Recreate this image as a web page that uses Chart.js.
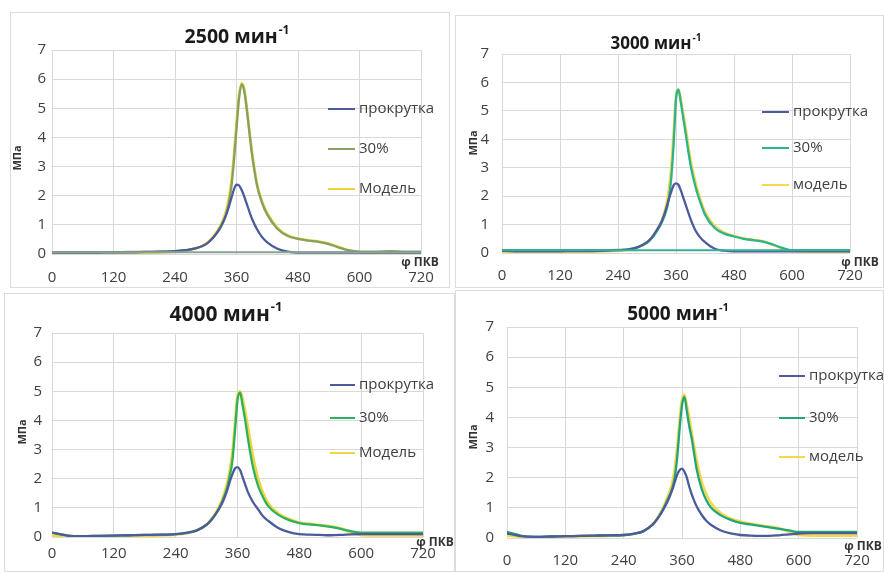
<!DOCTYPE html>
<html><head><meta charset="utf-8">
<script src="https://cdn.jsdelivr.net/npm/chart.js@4"></script>
<style>
html,body{margin:0;padding:0;background:#fff;width:884px;height:572px;overflow:hidden;position:relative;font-family:"Open Sans",sans-serif}
.panel{position:absolute;border:1px solid #dcdcdc;background:#fff}
.panel canvas{display:block}
</style></head><body>
<div class="panel" style="left:10px;top:12px"><canvas id="c1" width="438" height="274"></canvas></div>
<div class="panel" style="left:455px;top:15px"><canvas id="c2" width="427" height="271"></canvas></div>
<div class="panel" style="left:4px;top:293px"><canvas id="c3" width="449" height="277"></canvas></div>
<div class="panel" style="left:455px;top:290px"><canvas id="c4" width="427" height="280"></canvas></div>
<script>
// ---- data ----
const angles = [0,15,30,60,90,120,150,180,210,240,260,280,300,310,320,330,340,345,350,355,360,365,370,375,380,390,400,410,420,440,460,480,500,520,540,560,580,600,630,660,690,720];
const xTicks = [0,120,240,360,480,600,720];
const yTicks = [0,1,2,3,4,5,6,7];
const seriesNames = ['прокрутка','30%','Модель'];
const seriesNamesLower = ['прокрутка','30%','модель'];
const panelTitles = ['2500 мин','3000 мин','4000 мин','5000 мин'];
const titleSup = '-1';
const yAxisLabel = 'МПа';
const xAxisLabel = 'φ ПКВ';

const prok2500 = [0.05,0.05,0.05,0.05,0.05,0.06,0.06,0.07,0.08,0.10,0.13,0.19,0.33,0.48,0.68,0.95,1.35,1.62,1.92,2.22,2.38,2.35,2.20,1.98,1.72,1.22,0.85,0.58,0.40,0.18,0.08,0.05,0.05,0.05,0.05,0.05,0.05,0.05,0.05,0.05,0.05,0.05];
const p30_2500 = [0.06,0.06,0.06,0.06,0.06,0.06,0.07,0.07,0.08,0.10,0.13,0.19,0.33,0.47,0.68,0.95,1.38,1.75,2.30,3.20,4.30,5.35,5.82,5.60,4.95,3.45,2.35,1.75,1.35,0.86,0.62,0.52,0.46,0.42,0.34,0.22,0.12,0.08,0.08,0.10,0.08,0.08];
const model2500 = [0.02,0.02,0.02,0.02,0.02,0.02,0.03,0.03,0.05,0.08,0.12,0.19,0.34,0.50,0.72,1.02,1.50,1.90,2.50,3.40,4.50,5.45,5.86,5.68,5.05,3.55,2.42,1.80,1.40,0.90,0.64,0.53,0.47,0.43,0.36,0.24,0.12,0.07,0.06,0.06,0.06,0.06];
const baseAngles = [0,720];
const base2500 = [0.06,0.06];

const prok3000 = [0.08,0.07,0.06,0.06,0.06,0.06,0.07,0.07,0.08,0.10,0.12,0.20,0.38,0.55,0.80,1.10,1.58,1.88,2.15,2.38,2.45,2.40,2.20,1.95,1.70,1.20,0.80,0.55,0.38,0.15,0.08,0.06,0.06,0.06,0.06,0.06,0.06,0.06,0.06,0.06,0.06,0.06];
const p30_3000 = [0.10,0.10,0.10,0.10,0.10,0.10,0.10,0.10,0.10,0.11,0.13,0.20,0.36,0.52,0.75,1.05,1.50,1.90,2.60,3.80,5.40,5.75,5.30,4.75,4.20,3.10,2.35,1.80,1.35,0.88,0.68,0.58,0.50,0.45,0.40,0.30,0.18,0.10,0.10,0.10,0.10,0.10];
const model3000 = [0.05,0.05,0.04,0.04,0.04,0.04,0.05,0.05,0.06,0.08,0.11,0.19,0.36,0.55,0.80,1.12,1.70,2.20,3.00,4.20,5.50,5.75,5.40,4.90,4.40,3.30,2.50,1.90,1.45,0.95,0.72,0.60,0.52,0.46,0.41,0.30,0.15,0.07,0.05,0.05,0.05,0.05];
const base3000 = [0.10,0.10];

const prok4000 = [0.15,0.10,0.05,0.03,0.04,0.05,0.06,0.07,0.08,0.10,0.14,0.22,0.42,0.60,0.85,1.15,1.60,1.90,2.15,2.35,2.40,2.30,2.05,1.80,1.55,1.20,0.95,0.70,0.55,0.30,0.17,0.10,0.08,0.07,0.06,0.07,0.09,0.10,0.10,0.10,0.10,0.10];
const p30_4000 = [0.15,0.10,0.05,0.03,0.04,0.05,0.06,0.07,0.08,0.10,0.14,0.22,0.42,0.60,0.85,1.20,1.70,2.10,2.60,3.60,4.70,4.95,4.50,4.00,3.40,2.40,1.75,1.35,1.05,0.75,0.58,0.48,0.43,0.40,0.35,0.28,0.20,0.15,0.15,0.15,0.15,0.15];
const model4000 = [0.05,0.04,0.03,0.02,0.02,0.03,0.03,0.04,0.05,0.08,0.12,0.21,0.43,0.63,0.90,1.28,1.85,2.30,2.90,3.90,4.85,5.00,4.75,4.30,3.80,2.80,2.00,1.50,1.15,0.80,0.62,0.50,0.45,0.41,0.37,0.30,0.15,0.07,0.05,0.05,0.05,0.05];

const prok5000 = [0.15,0.10,0.06,0.04,0.05,0.06,0.07,0.08,0.09,0.10,0.14,0.22,0.45,0.65,0.90,1.20,1.60,1.85,2.10,2.25,2.30,2.20,2.00,1.70,1.45,1.05,0.78,0.57,0.43,0.25,0.15,0.10,0.08,0.07,0.07,0.09,0.12,0.15,0.16,0.16,0.16,0.16];
const p30_5000 = [0.20,0.14,0.07,0.04,0.05,0.06,0.07,0.08,0.09,0.10,0.14,0.22,0.45,0.65,0.92,1.25,1.65,2.00,2.65,3.60,4.40,4.68,4.20,3.70,3.30,2.30,1.65,1.25,1.00,0.75,0.60,0.50,0.45,0.40,0.35,0.30,0.25,0.20,0.20,0.20,0.20,0.20];
const model5000 = [0.08,0.06,0.04,0.03,0.03,0.04,0.05,0.06,0.07,0.09,0.13,0.22,0.46,0.68,0.97,1.35,1.85,2.30,3.00,3.90,4.60,4.75,4.40,4.00,3.50,2.60,1.90,1.45,1.15,0.82,0.65,0.55,0.48,0.42,0.38,0.32,0.20,0.10,0.08,0.08,0.08,0.08];

// ---- rendering ----
const FONT = '"Open Sans", "Noto Sans", sans-serif';
const pts = (xs, ys) => xs.map((a, i) => ({x: a, y: ys[i]}));

const panels = [
  { id:'c1', title:panelTitles[0], names:seriesNames, series:[prok2500,p30_2500,model2500], base:base2500,
    colors:['#4b5b9c','#86a060','#f0d43a'], baseColor:'#88a592',
    L:41, T:37, R:28, XH:33, xPad:15, yPad:6, titleFs:19.5,
    titleXY:[226,24], legX:[317,344,348], legY:[96,136,176], yLab:[7,145], xLab:[409,250] },
  { id:'c2', title:panelTitles[1], names:seriesNamesLower, series:[prok3000,p30_3000,model3000], base:base3000,
    colors:['#4b5b9c','#2fb38a','#f2da50'], baseColor:'#38ae94',
    L:46, T:38, R:33, XH:34, xPad:14, yPad:13, titleFs:17,
    titleXY:[200,28], legX:[306,333,337], legY:[96,132,169], yLab:[18,127], xLab:[404,247] },
  { id:'c3', title:panelTitles[2], names:seriesNames, series:[prok4000,p30_4000,model4000], base:null,
    colors:['#4b5b9c','#2ab35c','#f0d440'], baseColor:null,
    L:47, T:39, R:31, XH:34, xPad:8, yPad:10, titleFs:21,
    titleXY:[221,21], legX:[325,350,354], legY:[91,124,159], yLab:[18,138], xLab:[430,249] },
  { id:'c4', title:panelTitles[3], names:seriesNamesLower, series:[prok5000,p30_5000,model5000], base:null,
    colors:['#4b5b9c','#22a678','#f2d84a'], baseColor:null,
    L:51, T:36, R:26, XH:33, xPad:14, yPad:13, titleFs:19,
    titleXY:[222,24], legX:[323,349,353], legY:[85,127,166], yLab:[18,146], xLab:[407,256] }
];

const decor = {
  id:'decor',
  afterDraw(chart, args, o) {
    const p = o.p, ctx = chart.ctx;
    ctx.save();
    ctx.fillStyle = '#1a1a1a';
    ctx.textBaseline = 'middle';
    ctx.textAlign = 'left';
    ctx.font = 'bold ' + p.titleFs + 'px ' + FONT;
    const w1 = ctx.measureText(p.title).width;
    const supFs = Math.round(p.titleFs * 0.6);
    ctx.font = 'bold ' + supFs + 'px ' + FONT;
    const w2 = ctx.measureText(titleSup).width;
    const x0 = p.titleXY[0] - (w1 + w2 + 1) / 2;
    ctx.font = 'bold ' + p.titleFs + 'px ' + FONT;
    ctx.fillText(p.title, x0, p.titleXY[1]);
    ctx.font = 'bold ' + supFs + 'px ' + FONT;
    ctx.fillText(titleSup, x0 + w1 + 1, p.titleXY[1] - p.titleFs * 0.35);
    ctx.font = '15px ' + FONT;
    ctx.fillStyle = '#404040';
    p.names.forEach((n, i) => {
      const y = p.legY[i];
      ctx.strokeStyle = p.colors[i];
      ctx.lineWidth = 2;
      ctx.beginPath(); ctx.moveTo(p.legX[0], y); ctx.lineTo(p.legX[1], y); ctx.stroke();
      ctx.fillText(n, p.legX[2], y);
    });
    ctx.save();
    ctx.translate(p.yLab[0], p.yLab[1]);
    ctx.rotate(-Math.PI / 2);
    ctx.textAlign = 'center';
    ctx.font = 'bold 11px ' + FONT;
    ctx.fillStyle = '#333';
    ctx.fillText(yAxisLabel, 0, 0);
    ctx.restore();
    ctx.textAlign = 'center';
    ctx.font = 'bold 12px ' + FONT;
    ctx.fillStyle = '#333';
    ctx.fillText(xAxisLabel, p.xLab[0], p.xLab[1]);
    ctx.restore();
  }
};

panels.forEach(p => {
  const ds = [];
  if (p.base) {
    ds.push({ label:'base', data:pts(baseAngles, p.base), borderColor:p.baseColor, borderWidth:2, pointRadius:0, tension:0 });
  }
  p.series.forEach((s, i) => {
    ds.push({ label:p.names[i], data:pts(angles, s), borderColor:p.colors[i], borderWidth:(i === 2 ? 2.6 : 2.3),
      pointRadius:0, cubicInterpolationMode:'monotone', fill:false });
  });
  new Chart(document.getElementById(p.id), {
    type:'line',
    data:{ datasets:ds },
    options:{
      responsive:false, animation:false, devicePixelRatio:1,
      layout:{ padding:{ left:p.L - 30, top:p.T, right:p.R, bottom:0 } },
      plugins:{ legend:{display:false}, title:{display:false}, tooltip:{enabled:false}, decor:{p:p} },
      scales:{
        x:{ type:'linear', min:0, max:720,
            afterBuildTicks:s => { s.ticks = xTicks.map(v => ({value:v})); },
            ticks:{ padding:p.xPad, color:'#404040', font:{family:FONT, size:15} },
            grid:{ color:'#d9d9d9', drawTicks:false }, border:{display:false},
            afterFit:s => { s.height = p.XH; s.paddingLeft = 0; s.paddingRight = 0; } },
        y:{ type:'linear', min:0, max:7,
            afterBuildTicks:s => { s.ticks = yTicks.map(v => ({value:v})); },
            ticks:{ padding:p.yPad, color:'#404040', font:{family:FONT, size:15} },
            grid:{ color:'#d9d9d9', drawTicks:false }, border:{display:false},
            afterFit:s => { s.width = 30; s.paddingTop = 0; s.paddingBottom = 0; } }
      }
    },
    plugins:[decor]
  });
});
</script>
</body></html>
